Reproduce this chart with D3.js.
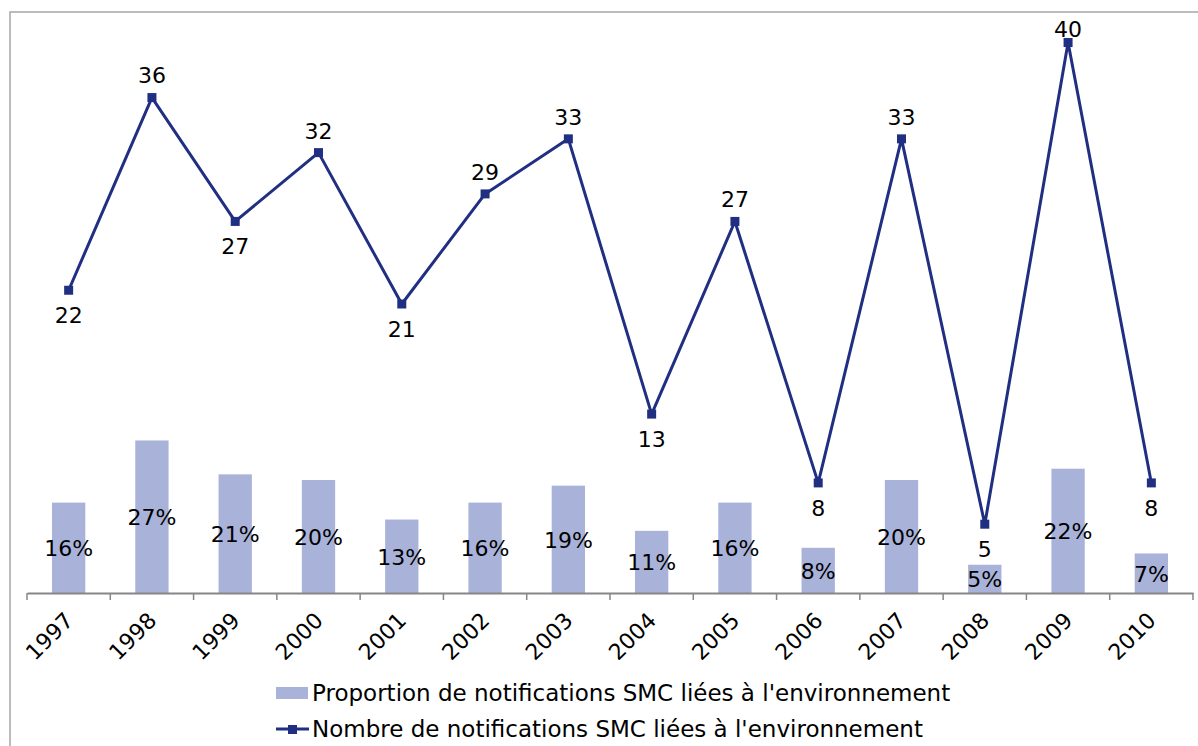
<!DOCTYPE html>
<html>
<head>
<meta charset="utf-8">
<script src="https://cdn.jsdelivr.net/npm/d3@7"></script>
<style>
  body { margin: 0; background: #fff; }
  svg { display: block; }
  text { font-family: "DejaVu Sans", Verdana, sans-serif; fill: #000; }
</style>
</head>
<body>
<div id="chart"></div>
<script>
// data
const years = ["1997", "1998", "1999", "2000", "2001", "2002", "2003", "2004", "2005", "2006", "2007", "2008", "2009", "2010"];
const proportion = [0.16, 0.27, 0.21, 0.20, 0.13, 0.16, 0.19, 0.11, 0.16, 0.08, 0.20, 0.05, 0.22, 0.07];
const counts = [22, 36, 27, 32, 21, 29, 33, 13, 27, 8, 33, 5, 40, 8];
const countLabelSide = ["below", "above", "below", "above", "below", "above", "above", "below", "above", "below", "above", "below", "above", "below"];
const legendLabels = [
    "Proportion de notifications SMC liées à l'environnement",
    "Nombre de notifications SMC liées à l'environnement"
];

const width = 1198, height = 746;
const margin = { top: 15, right: 5, bottom: 153, left: 27 };
const barColor = "#a9b3da";
const lineColor = "#212f83";

const svg = d3.select("#chart").append("svg")
    .attr("width", width)
    .attr("height", height);

// outer chart border (top and left visible)
svg.append("path")
    .attr("d", `M10,${height + 2}V12H${width + 2}`)
    .attr("fill", "none")
    .attr("stroke", "#a6a6a6")
    .attr("stroke-width", 1.5);

const x = d3.scaleBand()
    .domain(years)
    .range([margin.left, width - margin.right])
    .paddingInner(0)
    .paddingOuter(0);

const yBar = d3.scaleLinear().domain([0, 1.023]).range([height - margin.bottom, margin.top]);
const yLine = d3.scaleLinear().domain([0, 42]).range([height - margin.bottom, margin.top]);

const barW = x.bandwidth() * 0.4;

// bars
svg.selectAll(".bar")
    .data(years)
    .join("rect")
    .attr("class", "bar")
    .attr("x", d => x(d) + x.bandwidth() / 2 - barW / 2)
    .attr("y", (d, i) => yBar(proportion[i]))
    .attr("width", barW)
    .attr("height", (d, i) => yBar(0) - yBar(proportion[i]))
    .attr("fill", barColor);

// x axis
const xAxis = svg.append("g")
    .attr("transform", `translate(0,${yBar(0)})`)
    .call(d3.axisBottom(x).tickSize(0).tickFormat(""));
xAxis.select(".domain").attr("stroke", "#868686").attr("stroke-width", 2);

// tick marks at band edges
const edges = years.map(d => x(d)).concat([x(years[years.length - 1]) + x.bandwidth()]);
xAxis.selectAll(".edge")
    .data(edges)
    .join("line")
    .attr("class", "edge")
    .attr("x1", d => d).attr("x2", d => d)
    .attr("y1", 0).attr("y2", 7)
    .attr("stroke", "#868686")
    .attr("stroke-width", 1.5);

// year labels
svg.selectAll(".year")
    .data(years)
    .join("text")
    .attr("class", "year")
    .attr("text-anchor", "end")
    .attr("transform", d => `translate(${x(d) + x.bandwidth() / 2 - 5},${yBar(0) + 18}) rotate(-45)`)
    .attr("dy", "0.7em")
    .style("font-size", "22px")
    .text(d => d);

// bar labels
svg.selectAll(".bar-label")
    .data(years)
    .join("text")
    .attr("class", "bar-label")
    .attr("text-anchor", "middle")
    .attr("x", d => x(d) + x.bandwidth() / 2)
    .attr("y", (d, i) => (yBar(0) + yBar(proportion[i])) / 2)
    .attr("dy", "0.38em")
    .style("font-size", "22px")
    .text((d, i) => Math.round(proportion[i] * 100) + "%");

// line
const line = d3.line()
    .x((d, i) => x(years[i]) + x.bandwidth() / 2)
    .y(d => yLine(d));

svg.append("path")
    .datum(counts)
    .attr("fill", "none")
    .attr("stroke", lineColor)
    .attr("stroke-width", 3)
    .attr("stroke-linejoin", "round")
    .attr("d", line);

svg.selectAll(".marker")
    .data(counts)
    .join("rect")
    .attr("class", "marker")
    .attr("x", (d, i) => x(years[i]) + x.bandwidth() / 2 - 4.5)
    .attr("y", d => yLine(d) - 4.5)
    .attr("width", 9)
    .attr("height", 9)
    .attr("fill", lineColor);

// labels above are kept inside the plot area
svg.selectAll(".count-label")
    .data(counts)
    .join("text")
    .attr("class", "count-label")
    .attr("text-anchor", "middle")
    .attr("x", (d, i) => x(years[i]) + x.bandwidth() / 2)
    .attr("y", (d, i) => Math.max(29, yLine(d) + (countLabelSide[i] === "above" ? -22 : 25)))
    .attr("dy", "0.36em")
    .style("font-size", "22px")
    .text(d => d);

// legend
const legend = svg.append("g").attr("transform", "translate(276,0)");

legend.append("rect")
    .attr("x", 0).attr("y", 687)
    .attr("width", 32).attr("height", 12)
    .attr("fill", barColor);
legend.append("text")
    .attr("x", 36).attr("y", 693)
    .attr("dy", "0.36em")
    .style("font-size", "23px")
    .text(legendLabels[0]);

legend.append("line")
    .attr("x1", 0).attr("x2", 33)
    .attr("y1", 729).attr("y2", 729)
    .attr("stroke", lineColor)
    .attr("stroke-width", 3);
legend.append("rect")
    .attr("x", 12).attr("y", 725)
    .attr("width", 9).attr("height", 9)
    .attr("fill", lineColor);
legend.append("text")
    .attr("x", 36).attr("y", 729)
    .attr("dy", "0.36em")
    .style("font-size", "23px")
    .text(legendLabels[1]);
</script>
</body>
</html>
